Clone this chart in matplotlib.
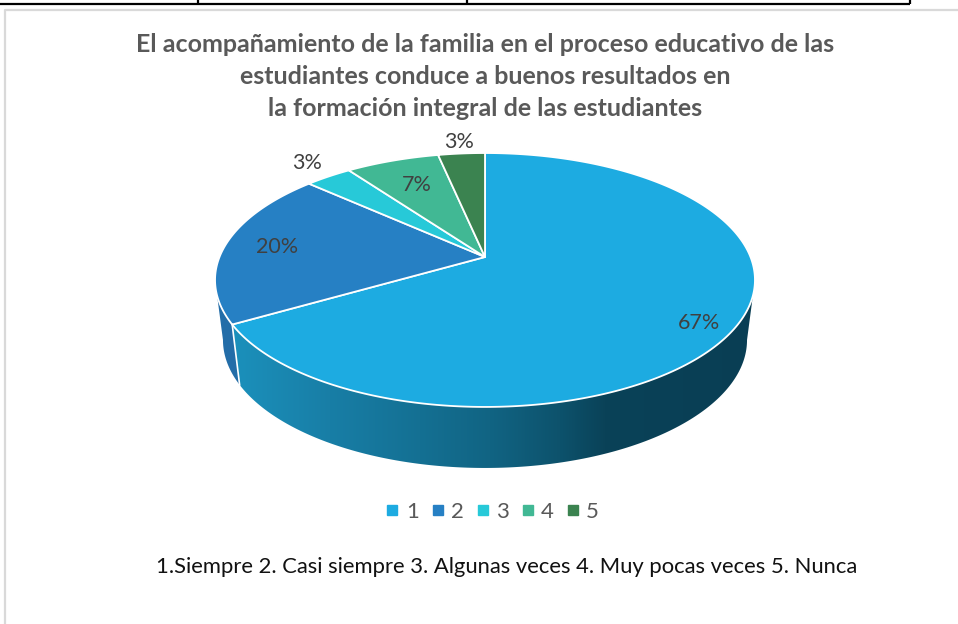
import numpy as np
import matplotlib
matplotlib.use("Agg")
import matplotlib.pyplot as plt
from matplotlib.patches import Polygon
from matplotlib.lines import Line2D

# ---------------- data ----------------
categories = ["1", "2", "3", "4", "5"]
values = [20, 6, 1, 2, 1]
title_lines = [
    "El acompañamiento de la familia en el proceso educativo de las",
    "estudiantes conduce a buenos resultados en",
    "la formación integral de las estudiantes",
]
footnote = "1.Siempre 2. Casi siempre 3. Algunas veces 4. Muy pocas veces 5. Nunca"
colors_top = ["#1DABE1", "#2680C4", "#27C9D8", "#41B894", "#3B8350"]

# ---------------- style / layout ----------------
FONT = ["Lato", "DejaVu Sans"]
plt.rcParams["font.family"] = FONT
W, H = 958, 624
fig = plt.figure(figsize=(W / 100, H / 100), dpi=100)
ax = fig.add_axes([0, 0, 1, 1])
ax.set_xlim(0, W)
ax.set_ylim(H, 0)
ax.axis("off")

# perspective pie geometry (pixel space)
CX = 485
TOP = dict(Y0=257.0, A=265.5, B=122.8)
BOT = dict(Y0=316.8, A=257.7, B=123.8)
K = 0.181


def proj(phi_deg, r, level):
    ph = np.radians(phi_deg)
    u = r * np.sin(ph)
    v = r * np.cos(ph)
    Y0 = TOP["Y0"] + (BOT["Y0"] - TOP["Y0"]) * level
    A = TOP["A"] + (BOT["A"] - TOP["A"]) * level
    B = TOP["B"] + (BOT["B"] - TOP["B"]) * level
    w = 1 + K * v
    return CX + A * u / w, Y0 - B * v / w


total = float(sum(values))
bounds = np.concatenate([[0], np.cumsum(values) / total * 360.0])
phi_right = 90 + np.degrees(np.arcsin(K))
phi_left = 270 - np.degrees(np.arcsin(K))

# ---- walls ----
grad_stops_x = [215, 240, 330, 420, 490, 560, 605, 760]
grad_stops_c = [(30, 150, 196), (27, 143, 186), (24, 126, 166), (20, 112, 147),
                (17, 100, 131), (13, 82, 108), (10, 66, 88), (9, 62, 84)]
wall_flat = {1: "#236DA8", 2: "#1E9BA6", 3: "#318C70", 4: "#2C6440"}

for i in range(len(values)):
    a, b = bounds[i], bounds[i + 1]
    lo, hi = max(a, phi_right), min(b, phi_left)
    if hi <= lo:
        continue
    ph = np.linspace(lo, hi, 200)
    xt, yt = proj(ph, 1, 0)
    xb, yb = proj(ph[::-1], 1, 1)
    pts = np.column_stack([np.concatenate([xt, xb]), np.concatenate([yt, yb])])
    if i == 0:
        patch = Polygon(pts, closed=True, fc="none", ec="none", zorder=1)
        ax.add_patch(patch)
        xs = np.arange(200, 770)
        cols = np.array([np.interp(xs, grad_stops_x, [c[j] for c in grad_stops_c])
                         for j in range(3)]).T / 255.0
        img = np.repeat(cols[None, :, :], 2, axis=0)
        im = ax.imshow(img, extent=(200, 770, 480, 270), aspect="auto",
                       interpolation="bilinear", zorder=1)
        im.set_clip_path(patch)
    else:
        ax.add_patch(Polygon(pts, closed=True, fc=wall_flat[i], ec="none", zorder=1))

# white separators between walls
for bnd in bounds[1:-1]:
    if phi_right < bnd < phi_left:
        x0, y0 = proj(bnd, 1, 0)
        x1, y1 = proj(bnd, 1, 1)
        ax.plot([x0, x1], [y0, y1], color="white", lw=1.2, zorder=2)

# ---- top faces ----
ax_apex = proj(0, 0, 0)
for i in range(len(values)):
    a, b = bounds[i], bounds[i + 1]
    ph = np.linspace(a, b, 300)
    xt, yt = proj(ph, 1, 0)
    pts = np.column_stack([np.concatenate([[ax_apex[0]], xt]),
                           np.concatenate([[ax_apex[1]], yt])])
    ax.add_patch(Polygon(pts, closed=True, fc=colors_top[i], ec="white",
                         lw=1.3, joinstyle="round", zorder=3))

# ---- data labels ----
label_r = [0.86, 0.80, 1.16, 0.70, 1.15]
label_dy = [9, 0, -2, -2, 1]
for i, v in enumerate(values):
    mid = (bounds[i] + bounds[i + 1]) / 2
    x, y = proj(mid, label_r[i], 0)
    ax.text(x, y + label_dy[i], f"{round(v / total * 100)}%", ha="center",
            va="center", fontsize=15.5, color="#404040", zorder=5)

# ---- title ----
for j, (line, y) in enumerate(zip(title_lines, [44, 77, 108])):
    ax.text(485, y, line, ha="center", va="center", fontsize=18,
            fontweight="bold", color="#595959", zorder=5)

# ---- legend ----
handles = [Line2D([0], [0], marker="s", ls="none", markersize=7,
                  markerfacecolor=c, markeredgecolor=c) for c in colors_top]
fig.legend(handles, categories, loc="center", ncol=5,
           bbox_to_anchor=(493 / W, 1 - 512 / H), frameon=False,
           fontsize=16, labelcolor="#595959", handlelength=0.5,
           handletextpad=0.35, columnspacing=0.6, borderaxespad=0)

# ---- footnote ----
ax.text(507, 567, footnote, ha="center", va="center", fontsize=15.8,
        color="#111111", zorder=5)

# ---- frame lines ----
ax.plot([0, 910], [4, 4], color="black", lw=1.6, zorder=6, solid_capstyle="butt")
for xv in [198, 467, 910]:
    ax.plot([xv, xv], [0, 4], color="black", lw=1.6, zorder=6, solid_capstyle="butt")
ax.plot([5.5, 5.5, W], [H, 9.5, 9.5], color="#d9d9d9", lw=1.6, zorder=6)

fig.savefig("out.png", dpi=100)
